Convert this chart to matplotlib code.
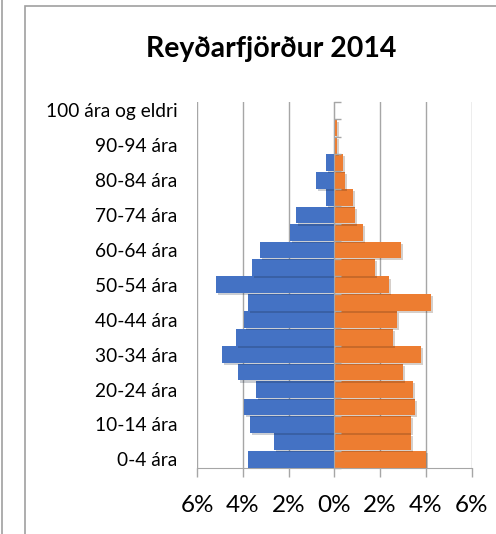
import matplotlib.pyplot as plt
import numpy as np
from matplotlib.patches import Rectangle
from matplotlib.lines import Line2D
import matplotlib.patheffects as pe

plt.rcParams['font.family'] = ['Lato', 'DejaVu Sans']

# age groups bottom to top
age_groups = ['0-4 ára', '5-9 ára', '10-14 ára', '15-19 ára', '20-24 ára',
              '25-29 ára', '30-34 ára', '35-39 ára', '40-44 ára', '45-49 ára',
              '50-54 ára', '55-59 ára', '60-64 ára', '65-69 ára', '70-74 ára',
              '75-79 ára', '80-84 ára', '85-89 ára', '90-94 ára', '95-99 ára',
              '100 ára og eldri']
# share of population in %, blue drawn to the left
blue = [3.78, 2.64, 3.69, 3.96, 3.43, 4.22, 4.92, 4.31, 3.96, 3.78,
        5.18, 3.60, 3.26, 1.94, 1.68, 0.36, 0.80, 0.36, 0.0, 0.0, 0.0]
orange = [4.00, 3.36, 3.36, 3.53, 3.45, 3.00, 3.80, 2.57, 2.74, 4.23,
          2.39, 1.78, 2.92, 1.26, 0.90, 0.82, 0.47, 0.38, 0.10, 0.10, 0.0]
xticks = [-6, -4, -2, 0, 2, 4, 6]

grey = '#A6A6A6'

fig = plt.figure(figsize=(4.96, 5.34), dpi=100)
# chart frame
fig.add_artist(Rectangle((25 / 496, -0.05), 1.0, 1.05 - 6 / 534,
                         transform=fig.transFigure, fill=False,
                         edgecolor='#A0A0A0', linewidth=1.2))
fig.add_artist(Line2D([2 / 496, 2 / 496], [0, 1], transform=fig.transFigure,
                      color='#A0A0A0', linewidth=1.2))

ax = fig.add_axes([197 / 496, 66 / 534, 274.7 / 496, 366.3 / 534])
y = np.arange(len(age_groups))
shadow = [pe.SimplePatchShadow(offset=(1.5, -1.5), alpha=0.22), pe.Normal()]
bl = ax.barh(y, -np.array(blue), height=0.96, color='#4472C4', zorder=3)
orr = ax.barh(y, orange, height=0.96, color='#ED7D31', zorder=3)
for p in list(bl) + list(orr):
    p.set_path_effects(shadow)

ax.set_xlim(-6, 6)
ax.set_ylim(-0.5, len(age_groups) - 0.5)
ax.set_xticks(xticks)
ax.set_xticklabels([f'{abs(v)}%' for v in xticks], fontsize=17.5)
ax.tick_params(axis='x', length=6.5, width=1, color=grey, pad=13)
ax.xaxis.grid(True, color=grey, linewidth=1, zorder=0)

ax.set_yticks(y[::2])
ax.set_yticklabels(age_groups[::2], fontsize=13.8)
ax.tick_params(axis='y', length=0, pad=14)

for s in ['top', 'right', 'left']:
    ax.spines[s].set_visible(False)
ax.spines['bottom'].set_color(grey)

# category axis at 0%
sec = ax.secondary_yaxis(0.5)
sec.set_yticks(np.arange(-0.5, len(age_groups) + 0.5, 1))
sec.set_yticklabels([])
sec.tick_params(length=5, width=1, color=grey)
for s in sec.spines.values():
    s.set_color(grey)
sec.set_zorder(4)

fig.text(271 / 496, 1 - 49 / 534, 'Reyðarfjörður 2014', ha='center',
         va='center', fontsize=20.5, fontweight='bold')

fig.savefig('out.png', dpi=100)
